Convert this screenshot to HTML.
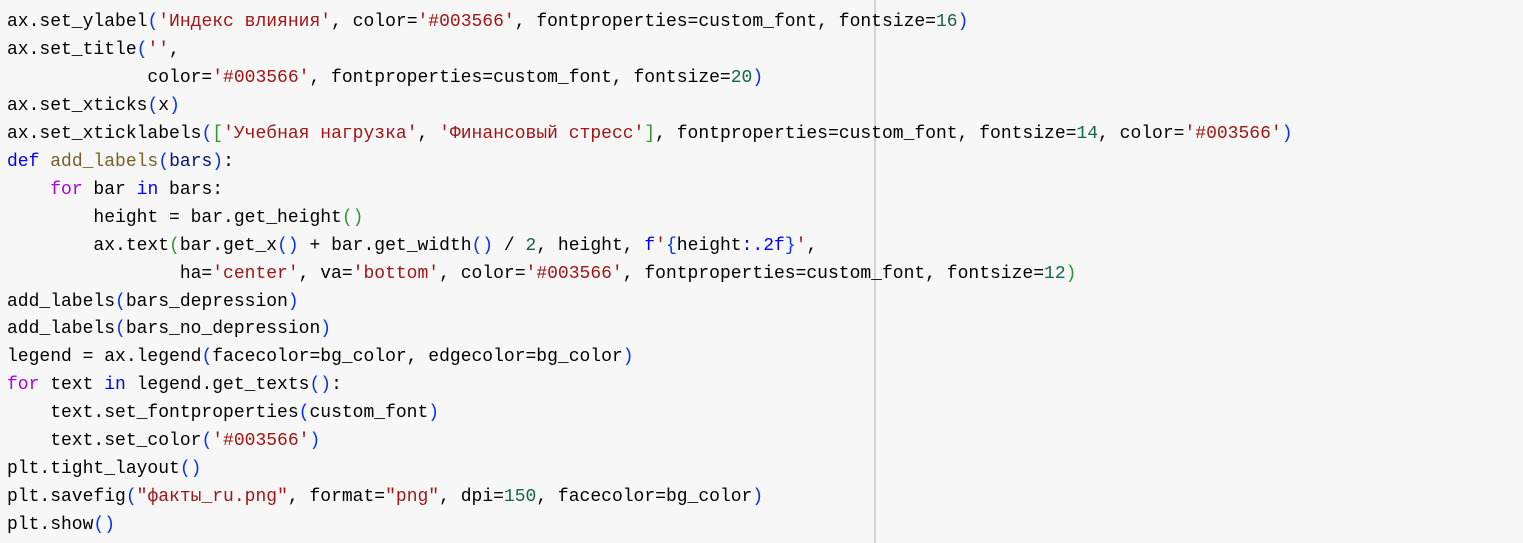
<!DOCTYPE html>
<html><head><meta charset="utf-8"><style>
html,body{margin:0;padding:0;width:1523px;height:543px;overflow:hidden;background:#f7f7f7;}
pre{position:absolute;left:7px;top:9px;margin:0;font-family:"Liberation Mono","DejaVu Sans Mono",monospace;font-size:18px;line-height:27.95px;color:#000;}
.s{color:#a31515}.b{color:#0431fa}.n{color:#116644}.k{color:#0000ff}.f{color:#795e26}.v{color:#001080}.p{color:#af00db}.g{color:#319331}
.vl{position:absolute;left:874px;top:0;width:2px;height:543px;background:#d4d4d4;}
</style></head><body>
<div class="vl"></div>
<pre>ax.set_ylabel<span class="b">(</span><span class="s">'Индекс влияния'</span>, color=<span class="s">'#003566'</span>, fontproperties=custom_font, fontsize=<span class="n">16</span><span class="b">)</span>
ax.set_title<span class="b">(</span><span class="s">''</span>,
             color=<span class="s">'#003566'</span>, fontproperties=custom_font, fontsize=<span class="n">20</span><span class="b">)</span>
ax.set_xticks<span class="b">(</span>x<span class="b">)</span>
ax.set_xticklabels<span class="b">(</span><span class="g">[</span><span class="s">'Учебная нагрузка'</span>, <span class="s">'Финансовый стресс'</span><span class="g">]</span>, fontproperties=custom_font, fontsize=<span class="n">14</span>, color=<span class="s">'#003566'</span><span class="b">)</span>
<span class="k">def</span> <span class="f">add_labels</span><span class="b">(</span><span class="v">bars</span><span class="b">)</span>:
    <span class="p">for</span> bar <span class="k">in</span> bars:
        height = bar.get_height<span class="g">()</span>
        ax.text<span class="g">(</span>bar.get_x<span class="b">()</span> + bar.get_width<span class="b">()</span> / <span class="n">2</span>, height, <span class="k">f</span><span class="s">'</span><span class="b">{</span>height<span class="k">:.2f</span><span class="b">}</span><span class="s">'</span>,
                ha=<span class="s">'center'</span>, va=<span class="s">'bottom'</span>, color=<span class="s">'#003566'</span>, fontproperties=custom_font, fontsize=<span class="n">12</span><span class="g">)</span>
add_labels<span class="b">(</span>bars_depression<span class="b">)</span>
add_labels<span class="b">(</span>bars_no_depression<span class="b">)</span>
legend = ax.legend<span class="b">(</span>facecolor=bg_color, edgecolor=bg_color<span class="b">)</span>
<span class="p">for</span> text <span class="k">in</span> legend.get_texts<span class="b">()</span>:
    text.set_fontproperties<span class="b">(</span>custom_font<span class="b">)</span>
    text.set_color<span class="b">(</span><span class="s">'#003566'</span><span class="b">)</span>
plt.tight_layout<span class="b">()</span>
plt.savefig<span class="b">(</span><span class="s">"факты_ru.png"</span>, format=<span class="s">"png"</span>, dpi=<span class="n">150</span>, facecolor=bg_color<span class="b">)</span>
plt.show<span class="b">()</span></pre>
</body></html>
